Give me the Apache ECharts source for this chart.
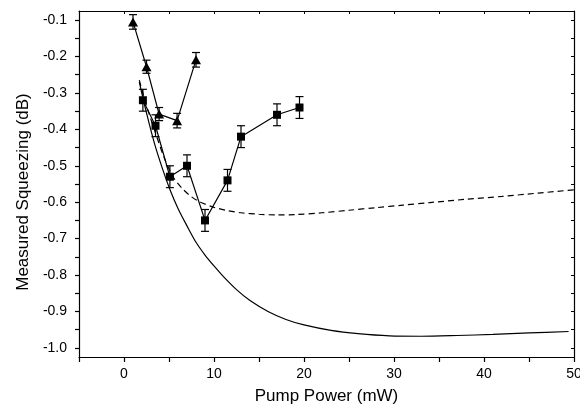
<!DOCTYPE html>
<html>
<head>
<meta charset="utf-8">
<script src="https://cdn.jsdelivr.net/npm/echarts@6/dist/echarts.min.js"></script>
<style>
html,body{margin:0;padding:0;background:#fff}
#chart{width:580px;height:410px}
</style>
</head>
<body>
<div id="chart"></div>
<script>
// triangles (measured, set 1)
var triX = [1.0, 2.5, 3.9, 5.9, 8.0];
var triY = [-0.105, -0.228, -0.358, -0.376, -0.209];
var triErr = [0.02, 0.018, 0.018, 0.02, 0.02];

// squares (measured, set 2)
var sqX = [2.1, 3.5, 5.1, 7.0, 9.0, 11.5, 13.0, 17.0, 19.5];
var sqY = [-0.32, -0.39, -0.53, -0.50, -0.65, -0.54, -0.42, -0.36, -0.34];
var sqErr = [0.03, 0.03, 0.03, 0.03, 0.03, 0.03, 0.03, 0.03, 0.03];

// theory, solid curve
var fitX = [1.7, 2.5, 3.4, 4.3, 5.1, 6.0, 7.0, 8.0, 9.0, 10.0, 11.0, 12.5, 14.0, 16.0, 18.0, 20.0, 23.0, 26.0, 29.5, 33.0, 37.0, 41.0, 45.0, 49.4];
var fitY = [-0.27, -0.355, -0.44, -0.51, -0.565, -0.617, -0.665, -0.71, -0.745, -0.775, -0.803, -0.84, -0.87, -0.90, -0.922, -0.937, -0.952, -0.961, -0.967, -0.968, -0.966, -0.963, -0.959, -0.955];

// theory, dashed curve
var dashX = [1.7, 2.5, 3.5, 4.5, 5.5, 6.5, 7.5, 8.5, 10.0, 11.5, 13.0, 15.0, 17.0, 19.0, 22.0, 25.0, 28.0, 31.0, 34.0, 38.0, 42.0, 46.0, 50.0];
var dashY = [-0.265, -0.335, -0.41, -0.48, -0.532, -0.563, -0.585, -0.60, -0.614, -0.623, -0.629, -0.633, -0.635, -0.634, -0.629, -0.622, -0.615, -0.608, -0.601, -0.592, -0.584, -0.575, -0.566];

// y ticks / labels
var yTicks = [-1.0, -0.95, -0.9, -0.85, -0.8, -0.75, -0.7, -0.65, -0.6, -0.55, -0.5, -0.45, -0.4, -0.35, -0.3, -0.25, -0.2, -0.15, -0.1];
var yLabels = [-1.0, -0.9, -0.8, -0.7, -0.6, -0.5, -0.4, -0.3, -0.2, -0.1];

function pairs(xs, ys){
	return xs.map(function(x, i){ return [x, ys[i]]; });
}
function errs(xs, ys, es){
	return xs.map(function(x, i){ return [x, ys[i] - es[i], ys[i] + es[i]]; });
}

var font = 'Arial, "Liberation Sans", sans-serif';
var black = '#000';

function errorBars(params, api){
	var x = api.value(0);
	var top = api.coord([x, api.value(2)]);
	var bot = api.coord([x, api.value(1)]);
	var w = 4;
	var st = {stroke: black, lineWidth: 1.2};
	return {
		type: 'group',
		children: [
			{type: 'line', shape: {x1: top[0], y1: top[1], x2: bot[0], y2: bot[1]}, style: st},
			{type: 'line', shape: {x1: top[0]-w, y1: top[1], x2: top[0]+w, y2: top[1]}, style: st},
			{type: 'line', shape: {x1: bot[0]-w, y1: bot[1], x2: bot[0]+w, y2: bot[1]}, style: st}
		]
	};
}

var chart = echarts.init(document.getElementById('chart'));
var axisLine = {show: true, onZero: false, lineStyle: {color: black, width: 1.2}};

option = {
	animation: false,
	backgroundColor: '#fff',
	grid: {left: 79, right: 6, top: 11, bottom: 53, containLabel: false, outerBoundsMode: 'none'},
	xAxis: [
		{
			type: 'value', min: -5, max: 50, interval: 5, position: 'bottom',
			axisLine: axisLine,
			axisTick: {show: true, inside: false, length: 5, lineStyle: {color: black, width: 1.2}},
			axisLabel: {
				color: black, fontSize: 14, fontFamily: font, margin: 10, showMaxLabel: true,
				formatter: function(v){ return v % 10 === 0 ? String(v) : ''; }
			},
			splitLine: {show: false},
			name: 'Pump Power (mW)', nameLocation: 'middle', nameGap: 31,
			nameTextStyle: {color: black, fontSize: 17, fontFamily: font}
		},
		{
			type: 'value', min: -5, max: 50, interval: 5, position: 'top',
			axisLine: axisLine,
			axisTick: {show: true, inside: true, length: 3, lineStyle: {color: black, width: 1}},
			axisLabel: {show: false},
			splitLine: {show: false}
		}
	],
	yAxis: [
		{
			type: 'value', min: -1.025, max: -0.075, position: 'left',
			axisLine: axisLine,
			axisTick: {show: true, inside: false, length: 4, customValues: yTicks, lineStyle: {color: black, width: 1.2}},
			axisLabel: {
				color: black, fontSize: 14, fontFamily: font, margin: 12, customValues: yLabels,
				formatter: function(v){ return v.toFixed(1); }
			},
			splitLine: {show: false},
			name: 'Measured Squeezing (dB)', nameLocation: 'middle', nameGap: 47, nameRotate: 90,
			nameTextStyle: {color: black, fontSize: 17, fontFamily: font, padding: [0, 16, 0, 0]}
		},
		{
			type: 'value', min: -1.025, max: -0.075, position: 'right',
			axisLine: axisLine,
			axisTick: {show: true, inside: true, length: 3, customValues: yTicks, lineStyle: {color: black, width: 1}},
			axisLabel: {show: false},
			splitLine: {show: false}
		}
	],
	series: [
		{
			name: 'theory', type: 'line', data: pairs(fitX, fitY), smooth: 0.3,
			symbol: 'none', lineStyle: {color: black, width: 1.2}
		},
		{
			name: 'theory2', type: 'line', data: pairs(dashX, dashY), smooth: 0.3,
			symbol: 'none', lineStyle: {color: black, width: 1.2, type: [6, 4]}
		},
		{
			name: 'triErr', type: 'custom', renderItem: errorBars,
			data: errs(triX, triY, triErr), encode: {x: 0, y: [1, 2]}, z: 3
		},
		{
			name: 'sqErr', type: 'custom', renderItem: errorBars,
			data: errs(sqX, sqY, sqErr), encode: {x: 0, y: [1, 2]}, z: 3
		},
		{
			name: 'triangles', type: 'line', data: pairs(triX, triY),
			symbol: 'triangle', symbolSize: [10, 9], showSymbol: true,
			itemStyle: {color: black, borderWidth: 0},
			lineStyle: {color: black, width: 1.2}, z: 4
		},
		{
			name: 'squares', type: 'line', data: pairs(sqX, sqY),
			symbol: 'rect', symbolSize: 8, showSymbol: true,
			itemStyle: {color: black, borderWidth: 0},
			lineStyle: {color: black, width: 1.2}, z: 4
		}
	]
};

chart.setOption(option);
</script>
</body>
</html>
